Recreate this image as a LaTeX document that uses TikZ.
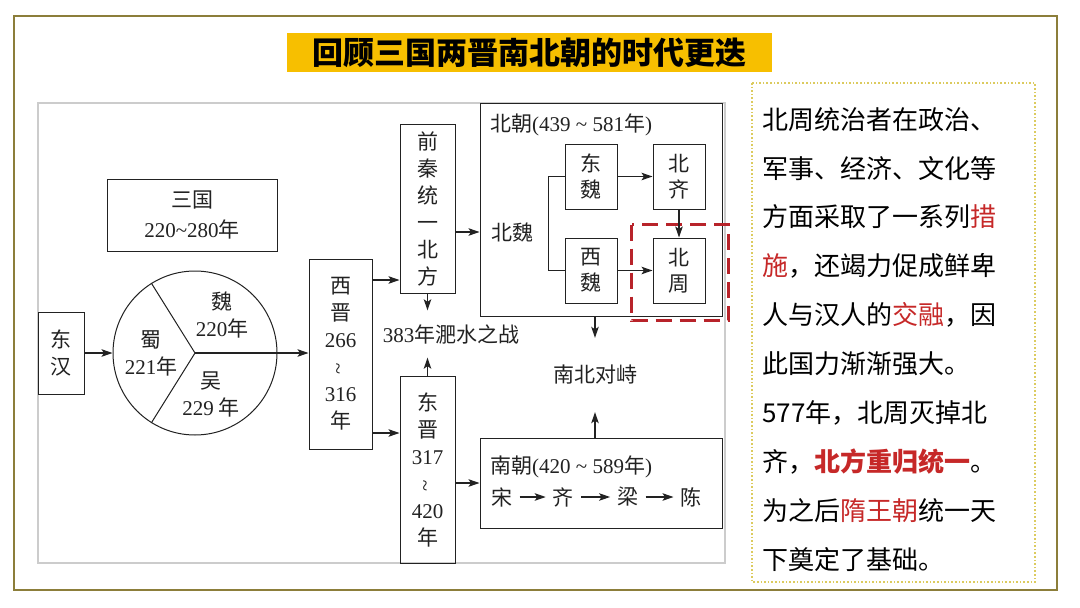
\documentclass[tikz,border=0pt]{standalone}
\usepackage{fontspec}
\usepackage{xcolor}
\usetikzlibrary{arrows.meta, positioning}
\newfontfamily\cjk{Noto Sans CJK SC}
\newfontfamily\numf{Liberation Serif}
\definecolor{Ink}{HTML}{222222}
\definecolor{Olive}{HTML}{8C7E3A}
\definecolor{Amber}{HTML}{F7BF00}
\definecolor{DotGold}{HTML}{DCCB5E}
\definecolor{DeepRed}{HTML}{B8232A}
\definecolor{Accent}{HTML}{C62828}
\newcommand{\nm}[1]{{\numf #1}}
\newcommand{\hl}[1]{\textcolor{Accent}{#1}}

\begin{document}
\begin{tikzpicture}[x=1pt, y=-1pt,
  box/.style={draw=Ink, line width=1pt, inner sep=0pt, align=center, text=Ink, font=\cjk\fontsize{21}{27}\selectfont},
  pair/.style={box, minimum width=52, minimum height=65, font=\cjk\fontsize{21}{26}\selectfont},
  frame/.style={draw=Ink, line width=1pt, inner sep=0pt},
  txt/.style={inner sep=0pt, align=center, text=Ink, font=\cjk\fontsize{21}{27}\selectfont},
  arrow/.style={-{Stealth[length=11pt, width=7.5pt, inset=2.5pt]}, line width=1.2pt, color=Ink},
  link/.style={line width=1pt, color=Ink}
]
\useasboundingbox (0,0) rectangle (1080,608);
% frame, title, panels
\draw[Olive, line width=2pt] (14,16) rectangle (1057,590);
\node[fill=Amber, minimum width=485, minimum height=39, inner sep=0pt, font=\cjk\bfseries\fontsize{31}{31}\selectfont] (title) at (529.5,52.5) {回顾三国两晋南北朝的时代更迭};
\draw[gray!40, line width=2pt, fill=white] (38,103) rectangle (725,563);
\draw[DotGold, dotted, line width=1.6pt, fill=white] (752,83) rectangle (1035,582);

% three kingdoms
\node[box, minimum width=46, minimum height=82] (donghan) at (61,353) {东\\汉};
\node[box, minimum width=170, minimum height=72] (sanguo) at (192,215) {三国\\[3pt]\nm{220\textasciitilde280}年};
\node[circle, draw=Ink, line width=1pt, minimum size=164, inner sep=0pt] (pie) at (195,353) {};
\draw[link] (pie.center) -- (pie.122);
\draw[link] (pie.center) -- (pie.238);
\node[txt] (wei) at (222,315) {魏\\\nm{220}年};
\node[txt] (shu) at (151,353) {蜀\\\nm{221}年};
\node[txt] (wu) at (211,394) {吴\\\nm{229} 年};

% jin
\node[box, minimum width=63, minimum height=190] (xijin) at (340.5,354) {西\\晋\\\nm{266}\\\rotatebox{90}{\nm{\textasciitilde}}\\\nm{316}\\年};
\node[box, minimum width=55, minimum height=169] (qianqin) at (427.5,208.5) {前\\秦\\统\\一\\北\\方};
\node[txt, minimum height=47] (feishui) at (451,334) {\nm{383}年淝水之战};
\node[box, minimum width=55, minimum height=187] (dongjin) at (427.5,469.5) {东\\晋\\\nm{317}\\\rotatebox{90}{\nm{\textasciitilde}}\\\nm{420}\\年};

% northern dynasties
\node[frame, minimum width=242, minimum height=213] (beichao) at (601,209.5) {};
\node[txt, anchor=west] (bctitle) at (490,125) {北朝\nm{(439 \textasciitilde{} 581}年\nm{)}};
\node[txt] (beiwei) at (512,232) {北魏};
\node[pair] (dongwei) at (591,176.5) {东\\魏};
\node[pair, right=35pt of dongwei] (beiqi) {北\\齐};
\node[pair, below=28pt of dongwei] (xiwei) {西\\魏};
\node[pair, right=35pt of xiwei] (beizhou) {北\\周};
\draw[DeepRed, dash pattern=on 16pt off 8pt, line width=2.6pt] ([shift={(-21,-13)}]beizhou.north west) rectangle ([shift={(23,17)}]beizhou.south east);

% southern dynasties
\node[txt, minimum height=74] (duizhi) at (595,375) {南北对峙};
\node[frame, minimum width=242, minimum height=90] (nanchao) at (601,483) {};
\node[txt, anchor=west] (nctitle) at (490,467) {南朝\nm{(420 \textasciitilde{} 589}年\nm{)}};
\node[txt] (song) at (502,497) {宋};
\node[txt, right=40pt of song] (nqi) {齐};
\node[txt, right=43pt of nqi] (liang) {梁};
\node[txt, right=42pt of liang] (chen) {陈};

% connectors
\draw[arrow] (donghan.east |- pie.west) -- (pie.west);
\draw[arrow] (pie.center) -- (pie.center -| xijin.west);
\draw[arrow] (xijin.east |- 0,280) -- (qianqin.west |- 0,280);
\draw[arrow] (xijin.east |- 0,433) -- (dongjin.west |- 0,433);
\draw[arrow] (qianqin.south) -- (qianqin.south |- feishui.north);
\draw[arrow] (dongjin.north) -- (dongjin.north |- feishui.south);
\draw[arrow] (qianqin.east |- beiwei) -- (beichao.west |- beiwei);
\draw[arrow] (dongjin.east |- nanchao.west) -- (nanchao.west);
\draw[link] (dongwei.west) -- ++(-16,0) |- (xiwei.west);
\draw[arrow] (dongwei) -- (beiqi);
\draw[arrow] (beiqi) -- (beizhou);
\draw[arrow] (xiwei) -- (beizhou);
\draw[arrow] (beichao.south -| duizhi) -- (duizhi.north);
\draw[arrow] (nanchao.north -| duizhi) -- (duizhi.south);
\draw[arrow, shorten <=7pt, shorten >=7pt] (song) -- (nqi);
\draw[arrow, shorten <=7pt, shorten >=7pt] (nqi) -- (liang);
\draw[arrow, shorten <=7pt, shorten >=7pt] (liang) -- (chen);

% note
\node[anchor=north west, inner sep=0pt, align=left, text=black, font=\cjk\fontsize{26}{48.9}\selectfont] (note) at (762,107) {北周统治者在政治、\\军事、经济、文化等\\方面采取了一系列\hl{措}\\\hl{施}，还竭力促成鲜卑\\人与汉人的\hl{交融}，因\\此国力渐渐强大。\\577年，北周灭掉北\\齐，\hl{\bfseries 北方重归统一}。\\为之后\hl{隋王朝}统一天\\下奠定了基础。};
\end{tikzpicture}
\end{document}
